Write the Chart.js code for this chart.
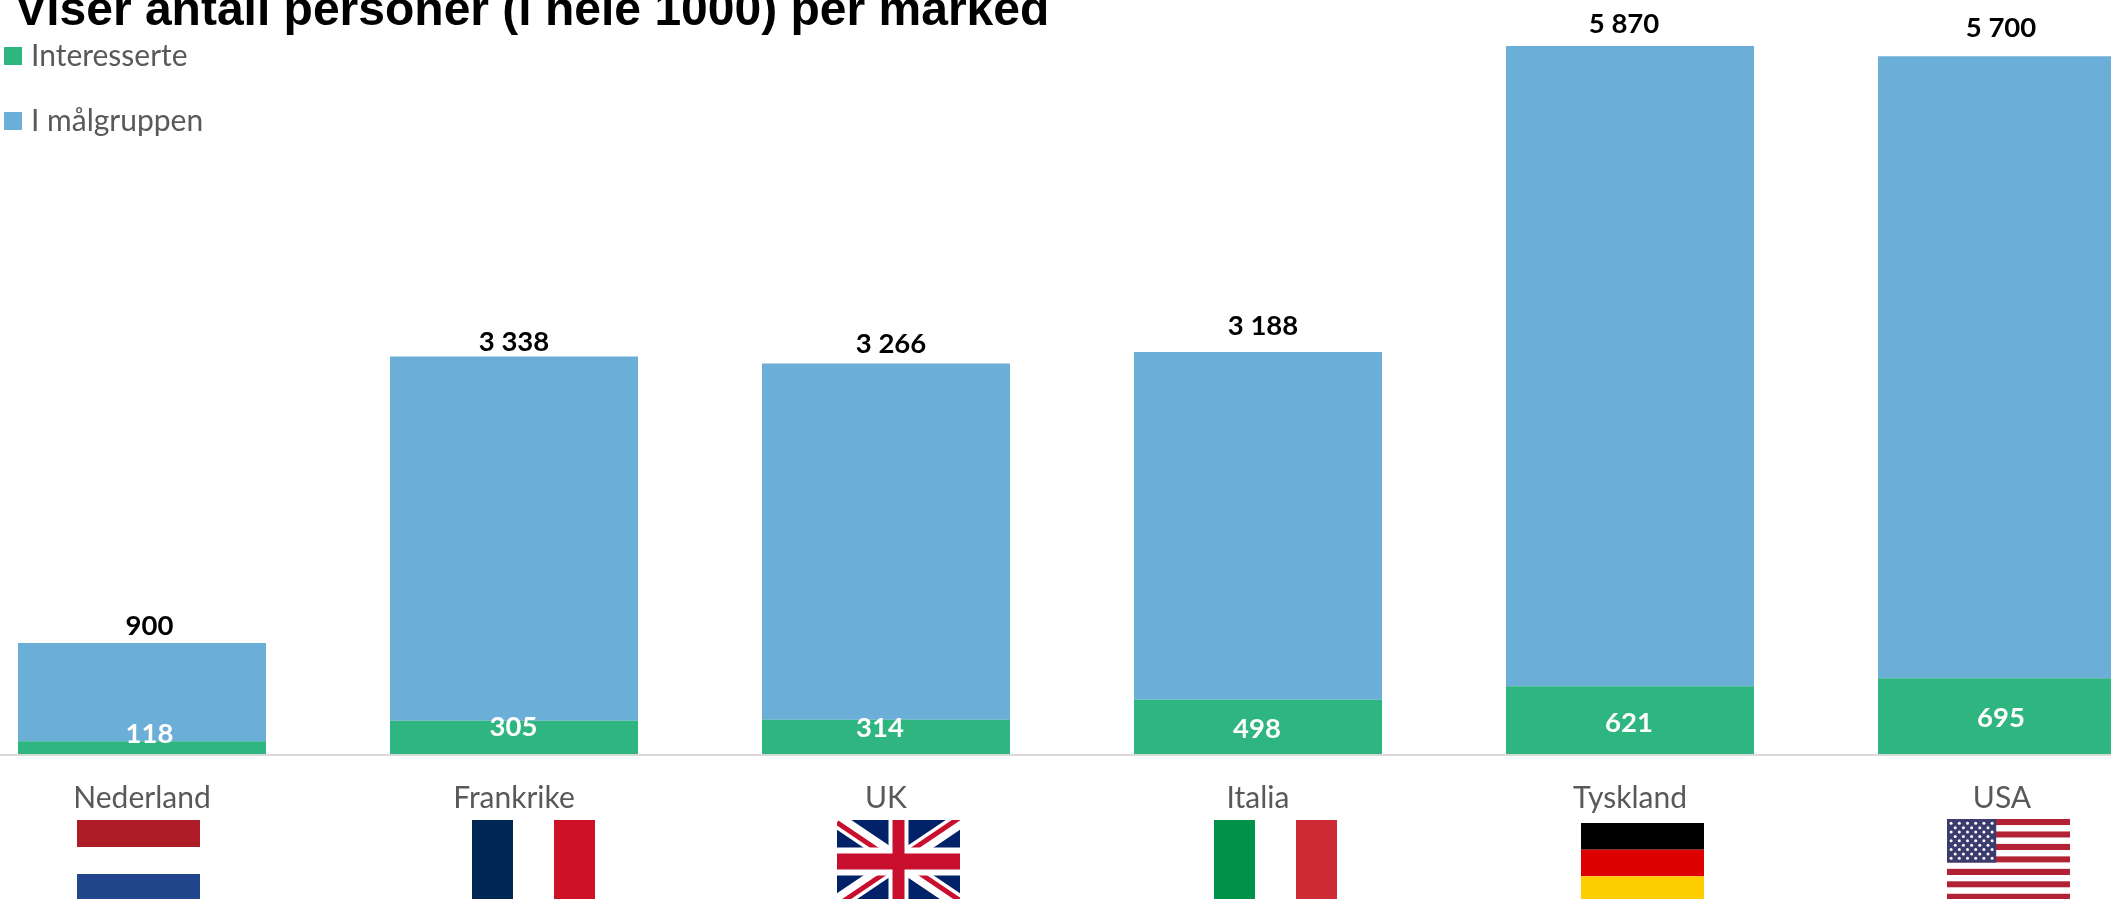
<!DOCTYPE html>
<html lang="no">
<head>
<meta charset="utf-8">
<title>Antall personer per marked</title>
<script src="https://cdn.jsdelivr.net/npm/chart.js@4/dist/chart.umd.js"></script>
<style>
  html, body { margin: 0; padding: 0; width: 2111px; height: 899px; overflow: hidden; background: #fff; }
  #chart { position: absolute; left: -44px; top: -14px; }
</style>
</head>
<body>
<canvas id="chart" width="2232" height="913"></canvas>
<script>
// Values, in thousands of people per market
const categories = ['Nederland', 'Frankrike', 'UK', 'Italia', 'Tyskland', 'USA'];
const interesserte = [118, 305, 314, 498, 621, 695];
const iMaalgruppen = [900, 3338, 3266, 3188, 5870, 5700];

const GREEN = '#2FB57F';
const BLUE = '#6BAED8';
const SANS = 'Lato, "Open Sans", sans-serif';
const canvasOffset = { x: -44, y: -14 };

// Manual nudges for the value labels, as placed by hand on the slide
const topLabelNudge = { dx: [7.5, 0, 5, 5, -6, -1], dy: [17, 14.5, 19.5, 26, 22, 28.5] };
const innerLabelNudge = { dx: [7.5, -0.5, -6, -1, -1, -1], dy: [-13, -10.2, -8.5, 2.5, 2.5, 2.5] };

const formatThousands = v => String(v).replace(/\B(?=(\d{3})+$)/g, ' ');

// Value labels: white inside the green segment, bold black above the blue one
const valueLabels = {
  id: 'valueLabels',
  afterDatasetsDraw(chart) {
    const { ctx } = chart;
    const lower = chart.getDatasetMeta(0).data;
    const upper = chart.getDatasetMeta(1).data;
    ctx.save();
    ctx.font = 'bold 27.5px ' + SANS;
    ctx.textAlign = 'center';
    ctx.textBaseline = 'middle';
    lower.forEach((bar, i) => {
      ctx.fillStyle = '#FFFFFF';
      ctx.fillText(formatThousands(interesserte[i]), bar.x + innerLabelNudge.dx[i],
        (bar.y + bar.base) / 2 + innerLabelNudge.dy[i]);
    });
    upper.forEach((bar, i) => {
      ctx.fillStyle = '#000000';
      ctx.fillText(formatThousands(iMaalgruppen[i]), bar.x + topLabelNudge.dx[i],
        bar.y - topLabelNudge.dy[i]);
    });
    ctx.restore();
  }
};

// Baseline rule, sitting directly under the bars
const baselineRule = {
  id: 'baselineRule',
  beforeDatasetsDraw(chart) {
    const { ctx, chartArea } = chart;
    ctx.save();
    ctx.fillStyle = '#D9D9D9';
    ctx.fillRect(chartArea.left, chartArea.bottom, chartArea.right - chartArea.left, 2);
    ctx.restore();
  }
};

function hStripes(ctx, x, y, w, h, colors) {
  colors.forEach((c, i) => {
    ctx.fillStyle = c;
    ctx.fillRect(x, y + i * h / colors.length, w, h / colors.length);
  });
}
function vStripes(ctx, x, y, w, h, colors) {
  colors.forEach((c, i) => {
    ctx.fillStyle = c;
    ctx.fillRect(x + i * w / colors.length, y, w / colors.length, h);
  });
}
function unionJack(ctx, x, y, w, h) {
  const cx = x + w / 2, cy = y + h / 2;
  ctx.save();
  ctx.beginPath();
  ctx.rect(x, y, w, h);
  ctx.clip();
  ctx.fillStyle = '#012169';
  ctx.fillRect(x, y, w, h);
  const diag = (x0, y0, x1, y1, color, width) => {
    ctx.strokeStyle = color;
    ctx.lineWidth = width;
    ctx.beginPath();
    ctx.moveTo(x0, y0);
    ctx.lineTo(x1, y1);
    ctx.stroke();
  };
  diag(x, y, x + w, y + h, '#FFFFFF', 16);
  diag(x + w, y, x, y + h, '#FFFFFF', 16);
  // Red saltire sits off-centre on each white band
  diag(x, y + 2.5, cx, cy + 2.5, '#C8102E', 5);
  diag(cx, cy - 2.5, x + w, y + h - 2.5, '#C8102E', 5);
  diag(x + w, y - 2.5, cx, cy - 2.5, '#C8102E', 5);
  diag(cx, cy + 2.5, x, y + h + 2.5, '#C8102E', 5);
  ctx.fillStyle = '#FFFFFF';
  ctx.fillRect(cx - 10, y, 20, h);
  ctx.fillRect(x, cy - 14, w, 28);
  ctx.fillStyle = '#C8102E';
  ctx.fillRect(cx - 6, y, 12, h);
  ctx.fillRect(x, cy - 8, w, 16);
  ctx.restore();
}
function starsAndStripes(ctx, x, y, w, h) {
  const stripes = [];
  for (let i = 0; i < 13; i++) stripes.push(i % 2 ? '#FFFFFF' : '#B22234');
  hStripes(ctx, x, y, w, h, stripes);
  const cw = w * 0.4, ch = h * 7 / 13;
  ctx.fillStyle = '#3C3B6E';
  ctx.fillRect(x, y, cw, ch);
  ctx.fillStyle = '#FFFFFF';
  for (let row = 0; row < 9; row++) {
    const n = row % 2 ? 5 : 6;
    for (let col = 0; col < n; col++) {
      const sx = x + cw * ((row % 2 ? 2 : 1) + col * 2) / 12;
      const sy = y + ch * (row + 1) / 10;
      ctx.beginPath();
      ctx.arc(sx, sy, 1.5, 0, Math.PI * 2);
      ctx.fill();
    }
  }
}

// Small flag under each market name
const flagPainters = [
  { dx: -65, top: 820, h: 81, draw: (c, x, y, w, h) => hStripes(c, x, y, w, h, ['#AE1C28', '#FFFFFF', '#21468B']) },
  { dx: -42, top: 820, h: 81, draw: (c, x, y, w, h) => vStripes(c, x, y, w, h, ['#002654', '#FFFFFF', '#CE1126']) },
  { dx: -49, top: 820, h: 83, draw: unionJack },
  { dx: -44, top: 820, h: 81, draw: (c, x, y, w, h) => vStripes(c, x, y, w, h, ['#009246', '#FFFFFF', '#CE2B37']) },
  { dx: -49, top: 823, h: 80, draw: (c, x, y, w, h) => hStripes(c, x, y, w, h, ['#000000', '#DD0000', '#FFCE00']) },
  { dx: -55, top: 819, h: 81, draw: starsAndStripes }
];
const flagsPlugin = {
  id: 'flags',
  afterDraw(chart) {
    const xScale = chart.scales.x;
    flagPainters.forEach((f, i) => {
      f.draw(chart.ctx, xScale.getPixelForTick(i) + f.dx, f.top - canvasOffset.y, 123, f.h);
    });
  }
};

// Title and legend are pulled in from the bleed area of the oversized canvas
const LEGEND_GAP = 35;
const placeBoxes = {
  id: 'placeBoxes',
  beforeDraw(chart) {
    chart.titleBlock.left = 15 - canvasOffset.x;
    chart.titleBlock.top = 2;
    chart.legend.left = 10 - canvasOffset.x - LEGEND_GAP;
    chart.legend.top = 41 - canvasOffset.y - LEGEND_GAP;
  }
};

new Chart(document.getElementById('chart'), {
  type: 'bar',
  data: {
    labels: categories,
    datasets: [
      { label: 'Interesserte', data: interesserte, backgroundColor: GREEN, barPercentage: 2 / 3, categoryPercentage: 1 },
      { label: 'I målgruppen', data: iMaalgruppen, backgroundColor: BLUE, barPercentage: 2 / 3, categoryPercentage: 1 }
    ]
  },
  options: {
    responsive: false,
    animation: false,
    events: [],
    layout: { padding: 0 },
    scales: {
      x: {
        stacked: true,
        grid: { display: false },
        border: { display: false },
        ticks: { color: '#595959', font: { family: SANS, size: 30 }, padding: 18, maxRotation: 0, autoSkip: false },
        afterFit(scale) { scale.height = 145; }
      },
      y: { stacked: true, display: false, min: 0, max: 6600 }
    },
    plugins: {
      title: {
        display: true,
        text: 'Viser antall personer (i hele 1000) per marked',
        align: 'start',
        color: '#000000',
        padding: 0,
        font: { family: '"Liberation Sans", Arial, sans-serif', size: 48, weight: 'bold', lineHeight: 1 }
      },
      legend: {
        position: 'chartArea',
        align: 'start',
        labels: {
          color: '#595959',
          boxWidth: 6,
          boxHeight: 6,
          padding: LEGEND_GAP,
          font: { family: SANS, size: 30 },
          // Thick same-colour outline widens the swatch without widening the text gap
          generateLabels: chart => chart.data.datasets.map((ds, i) => ({
            text: ds.label,
            fillStyle: ds.backgroundColor,
            strokeStyle: ds.backgroundColor,
            lineWidth: 12,
            datasetIndex: i,
            fontColor: '#595959'
          }))
        }
      },
      tooltip: { enabled: false }
    }
  },
  plugins: [placeBoxes, baselineRule, valueLabels, flagsPlugin]
});
</script>
</body>
</html>
